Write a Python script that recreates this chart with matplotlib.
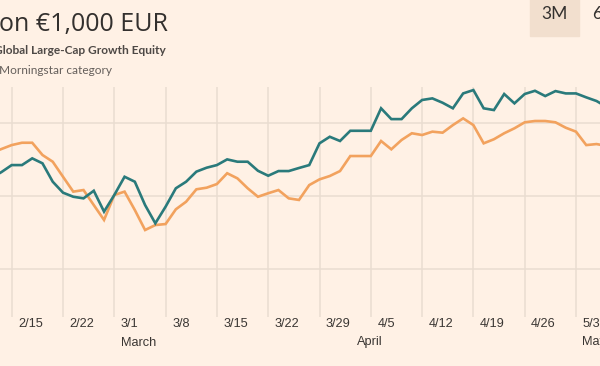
import numpy as np
import pandas as pd
import matplotlib
matplotlib.use('Agg')
import matplotlib.pyplot as plt
from matplotlib.patches import Rectangle

# daily values, business days 2021-02-11 .. 2021-05-06
start_date = '2021-02-11'
fund = [1062.5, 1066.6, 1071.4, 1071.4, 1076.0, 1072.6, 1060.0, 1052.5, 1049.7, 1048.6,
        1053.8, 1039.5, 1050.9, 1063.4, 1060.0, 1044.0, 1031.5, 1042.9, 1055.5, 1060.0,
        1066.9, 1069.6, 1071.4, 1075.3, 1073.7, 1073.7, 1067.5, 1064.1, 1067.3, 1067.3,
        1069.4, 1071.4, 1086.3, 1090.8, 1087.9, 1094.9, 1094.9, 1094.9, 1110.3, 1102.9,
        1102.9, 1110.3, 1116.0, 1117.1, 1114.1, 1110.3, 1120.5, 1122.8, 1110.3, 1109.1,
        1120.1, 1113.7, 1120.1, 1122.3, 1118.7, 1122.1, 1120.5, 1120.5, 1117.8, 1115.3,
        1111.2]
category = [1079.7, 1082.4, 1085.1, 1086.7, 1086.7, 1078.3, 1073.7, 1063.4, 1053.2, 1054.3,
            1044.0, 1033.8, 1050.9, 1053.2, 1040.6, 1026.9, 1030.3, 1031.0, 1041.1, 1046.3,
            1054.8, 1055.9, 1058.4, 1065.8, 1062.3, 1055.5, 1049.7, 1052.1, 1054.3, 1048.6,
            1047.5, 1057.7, 1061.6, 1063.9, 1067.3, 1077.6, 1077.6, 1077.6, 1087.9, 1082.2,
            1088.6, 1093.2, 1092.0, 1094.3, 1093.6, 1098.8, 1103.4, 1098.8, 1086.3, 1089.1,
            1093.2, 1096.6, 1100.7, 1101.6, 1101.6, 1100.7, 1097.0, 1094.3, 1085.1, 1085.8,
            1084.5]
y_grid = [1000, 1050, 1100]

title = 'on \u20ac1,000 EUR'
legend_name = 'Global Large-Cap Growth Equity'
legend_note = 'Morningstar category'
buttons = ['3M', '6M']

dates = pd.bdate_range(start_date, periods=len(fund))
idx = np.arange(len(dates))

bg = '#FFF1E5'
grid_c = '#EADDD1'
teal = '#2A7A7B'
orange = '#F2A25E'
txt = '#3a3633'

W, H = 600, 366
fig = plt.figure(figsize=(W / 100, H / 100), dpi=100, facecolor=bg)
ax = fig.add_axes([0, (H - 317) / H, 1, (317 - 87) / H])
ax.set_facecolor(bg)

ax.plot(idx, category, color=orange, lw=1.9, solid_joinstyle='miter', zorder=3)
ax.plot(idx, fund, color=teal, lw=1.9, solid_joinstyle='miter', zorder=4)

# x scale: first Monday tick sits ~11.7px from the left, 10.26px per day
ax.set_xlim(2 - 11.7 / 10.26, 2 + (W - 11.7) / 10.26)
ax.set_ylim(967.3, 1124.9)

mondays = [i for i, d in enumerate(dates) if d.weekday() == 0]
ax.set_xticks(mondays)
ax.set_yticks(y_grid)
ax.grid(True, color=grid_c, lw=1.1, zorder=1)
ax.tick_params(length=0, labelbottom=False, labelleft=False)
for s in ax.spines.values():
    s.set_visible(False)

for i in mondays:
    d = dates[i]
    ax.annotate('%d/%d' % (d.month, d.day), xy=(i, 0),
                xycoords=('data', 'axes fraction'),
                xytext=(6.5, -7), textcoords='offset pixels',
                ha='left', va='center', fontsize=9.2, color=txt,
                family='Liberation Sans', annotation_clip=False)

prev_month = dates[0].month
for i, d in enumerate(dates):
    if d.month != prev_month:
        ax.annotate(d.strftime('%B'), xy=(i, 0),
                    xycoords=('data', 'axes fraction'),
                    xytext=(6.5, -25.5), textcoords='offset pixels',
                    ha='left', va='center', fontsize=9.2, color=txt,
                    family='Liberation Sans', annotation_clip=False)
        prev_month = d.month

# header
fig.text(-1 / W, 1 - 31 / H, title, fontsize=18, color='#33302e',
         family='Open Sans', va='baseline', ha='left')
fig.text(-6 / W, 1 - 54 / H, legend_name, fontsize=8.6, color='#4d4845',
         family='Lato', weight='bold', va='baseline', ha='left')
fig.text(-1 / W, 1 - 74.5 / H, legend_note, fontsize=8.6, color='#66605c',
         family='Lato', va='baseline', ha='left')

fig.patches.append(Rectangle((530 / W, 1 - 36 / H), 49 / W, 40 / H,
                             transform=fig.transFigure, color='#F2DFCE',
                             zorder=0))
fig.text(554 / W, 1 - 14 / H, buttons[0], fontsize=12.5, color='#33302e',
         family='Lato', va='center', ha='center')
fig.text(592.5 / W, 1 - 14 / H, buttons[1], fontsize=12.5, color='#33302e',
         family='Lato', va='center', ha='left')

fig.savefig('out.png', dpi=100, facecolor=bg)
